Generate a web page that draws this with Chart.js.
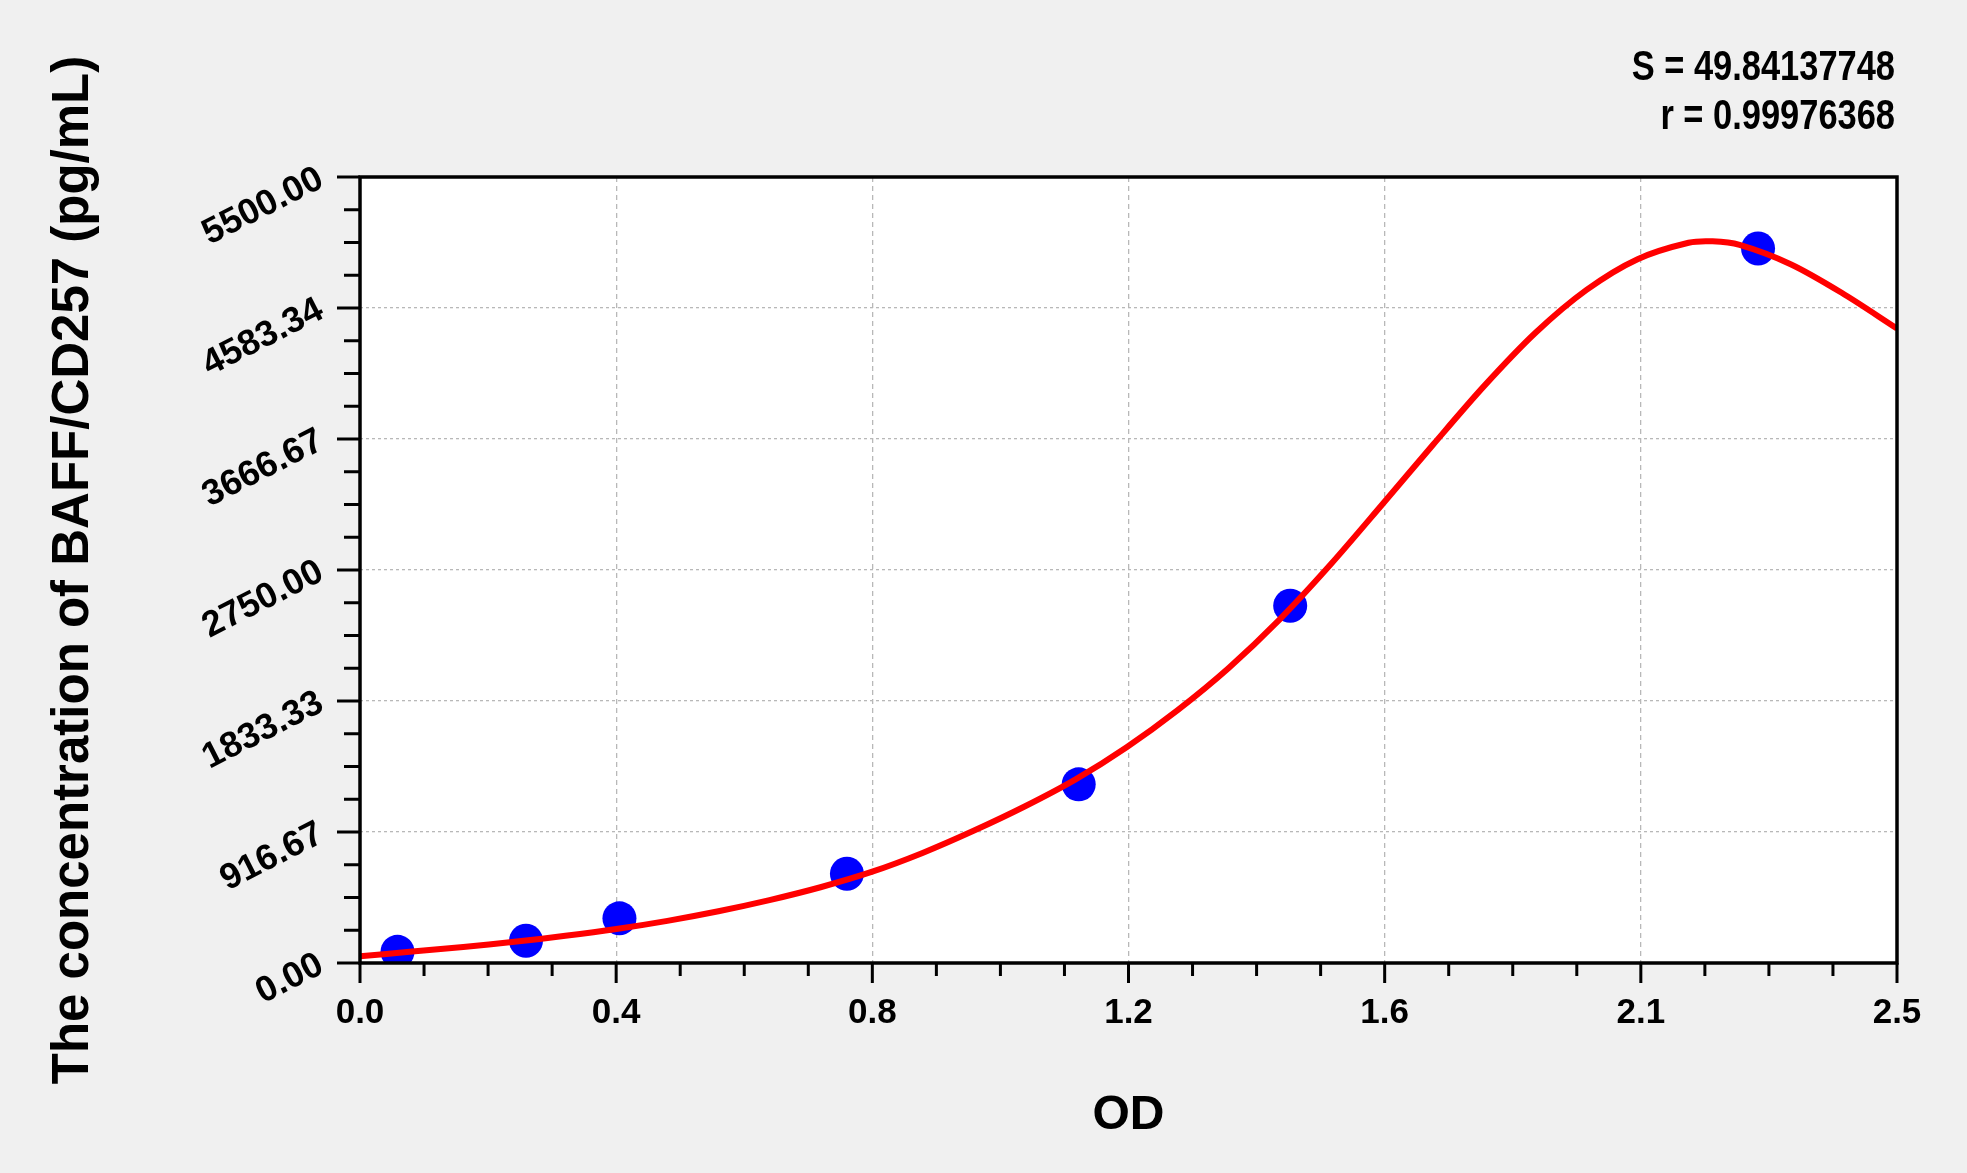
<!DOCTYPE html>
<html>
<head>
<meta charset="utf-8">
<title>BAFF/CD257 standard curve</title>
<script src="https://cdn.jsdelivr.net/npm/chart.js@4.4.1/dist/chart.umd.min.js"></script>
<style>
  html, body { margin: 0; padding: 0; background: #f0f0f0; overflow: hidden; }
  #curve { display: block; }
</style>
</head>
<body>
<canvas id="curve" width="1967" height="1173"></canvas>
<script>
// values
const xTickLabels = ['0.0', '0.4', '0.8', '1.2', '1.6', '2.1', '2.5'];
const yTickLabels = ['0.00', '916.67', '1833.33', '2750.00', '3666.67', '4583.34', '5500.00'];

// standards (OD vs concentration)
const odStandards = [0.061, 0.270, 0.422, 0.792, 1.169, 1.513, 2.274];
const concStandards = [78.13, 156.25, 312.5, 625, 1250, 2500, 5000];

// fitted curve
const curveOD = [0.000, 0.085, 0.168, 0.251, 0.334, 0.417, 0.500, 0.583, 0.666, 0.749,
  0.832, 0.915, 0.998, 1.081, 1.164, 1.247, 1.330, 1.413, 1.496, 1.579, 1.663, 1.746,
  1.829, 1.912, 1.995, 2.078, 2.161, 2.200, 2.244, 2.327, 2.410, 2.500];
const curveConc = [47, 80, 112, 148, 190, 238, 295, 362, 440, 530,
  637, 770, 925, 1095, 1285, 1510, 1770, 2065, 2405, 2790, 3210, 3630,
  4040, 4410, 4710, 4925, 5040, 5050, 5025, 4890, 4690, 4440];

const fitStats = ['S = 49.84137748', 'r = 0.99976368'];

const xMax = 2.5;
const yMax = 5500;
const steps = 24; // 6 labelled ticks, 3 minor ticks between them

const boldFont = "'Liberation Sans', Arial, sans-serif";

// white plot area, black frame, major/minor tick marks and the fit statistics
const frameAndTicks = {
  id: 'frameAndTicks',
  beforeDraw(chart) {
    const { ctx, chartArea: a } = chart;
    ctx.save();
    ctx.fillStyle = '#ffffff';
    ctx.fillRect(a.left, a.top, a.right - a.left, a.bottom - a.top);
    ctx.restore();
  },
  afterDatasetsDraw(chart) {
    const { ctx, chartArea: a, scales: { x, y } } = chart;
    ctx.save();
    ctx.strokeStyle = '#000';
    ctx.lineWidth = 3.5;
    ctx.strokeRect(a.left, a.top, a.right - a.left, a.bottom - a.top);
    ctx.lineWidth = 3;
    ctx.beginPath();
    x.ticks.forEach((t, i) => {
      const px = x.getPixelForValue(t.value);
      ctx.moveTo(px, a.bottom);
      ctx.lineTo(px, a.bottom + (i % 4 === 0 ? 20 : 13));
    });
    y.ticks.forEach((t, i) => {
      const py = y.getPixelForValue(t.value);
      ctx.moveTo(a.left, py);
      ctx.lineTo(a.left - (i % 4 === 0 ? 23 : 16), py);
    });
    ctx.stroke();

    // condensed bold text, right aligned with the frame
    ctx.fillStyle = '#000';
    ctx.font = 'bold 42px ' + boldFont;
    ctx.textAlign = 'right';
    ctx.textBaseline = 'middle';
    fitStats.forEach((line, i) => {
      ctx.save();
      ctx.translate(a.right - 2, 68 + i * 49);
      ctx.scale(0.82, 1);
      ctx.fillText(line, 0, 0);
      ctx.restore();
    });
    ctx.restore();
  }
};

const gridColor = (c) => (c.index % 4 === 0 && c.index !== 0 && c.index !== steps) ? '#b8b8b8' : 'transparent';

new Chart(document.getElementById('curve').getContext('2d'), {
  type: 'scatter',
  data: {
    datasets: [
      {
        type: 'line',
        label: 'fit',
        data: curveOD.map((v, i) => ({ x: v, y: curveConc[i] })),
        borderColor: '#ff0000',
        borderWidth: 6,
        pointRadius: 0,
        tension: 0.3,
        fill: false,
        order: 0
      },
      {
        label: 'standards',
        data: odStandards.map((v, i) => ({ x: v, y: concStandards[i] })),
        backgroundColor: '#0000ff',
        borderWidth: 0,
        pointRadius: 17,
        order: 1
      }
    ]
  },
  options: {
    responsive: false,
    devicePixelRatio: 1,
    animation: false,
    layout: { padding: { left: 43, right: 70, top: 177, bottom: 28 } },
    plugins: {
      legend: { display: false },
      tooltip: { enabled: false }
    },
    scales: {
      x: {
        type: 'linear',
        min: 0,
        max: xMax,
        afterBuildTicks: (s) => {
          s.ticks = Array.from({ length: steps + 1 }, (_, i) => ({ value: i * xMax / steps }));
        },
        afterFit: (s) => { s.height = 182; },
        grid: { color: gridColor, lineWidth: 1.3, drawTicks: true, tickLength: 20, tickColor: 'transparent' },
        border: { display: false, dash: [5, 4] },
        ticks: {
          autoSkip: false,
          maxRotation: 0,
          padding: 9,
          color: '#000',
          font: { family: boldFont, size: 35, weight: 'bold' },
          callback: (v, i) => (i % 4 === 0 ? xTickLabels[i / 4] : '')
        },
        title: {
          display: true,
          text: 'OD',
          color: '#000',
          font: { family: boldFont, size: 48, weight: 'bold' },
          padding: 0
        }
      },
      y: {
        type: 'linear',
        min: 0,
        max: yMax,
        afterBuildTicks: (s) => {
          s.ticks = Array.from({ length: steps + 1 }, (_, i) => ({ value: i * yMax / steps }));
        },
        afterFit: (s) => { s.width = 317; },
        grid: { color: gridColor, lineWidth: 1.3, drawTicks: true, tickLength: 23, tickColor: 'transparent' },
        border: { display: false, dash: [3, 3] },
        ticks: {
          autoSkip: false,
          minRotation: 27,
          maxRotation: 27,
          padding: 16,
          color: '#000',
          font: { family: boldFont, size: 36, weight: 'bold' },
          callback: (v, i) => (i % 4 === 0 ? yTickLabels[i / 4] : '')
        },
        title: {
          display: true,
          text: 'The concentration of BAFF/CD257 (pg/mL)',
          color: '#000',
          font: { family: boldFont, size: 51, weight: 'bold' },
          padding: 0
        }
      }
    }
  },
  plugins: [frameAndTicks]
});
</script>
</body>
</html>
